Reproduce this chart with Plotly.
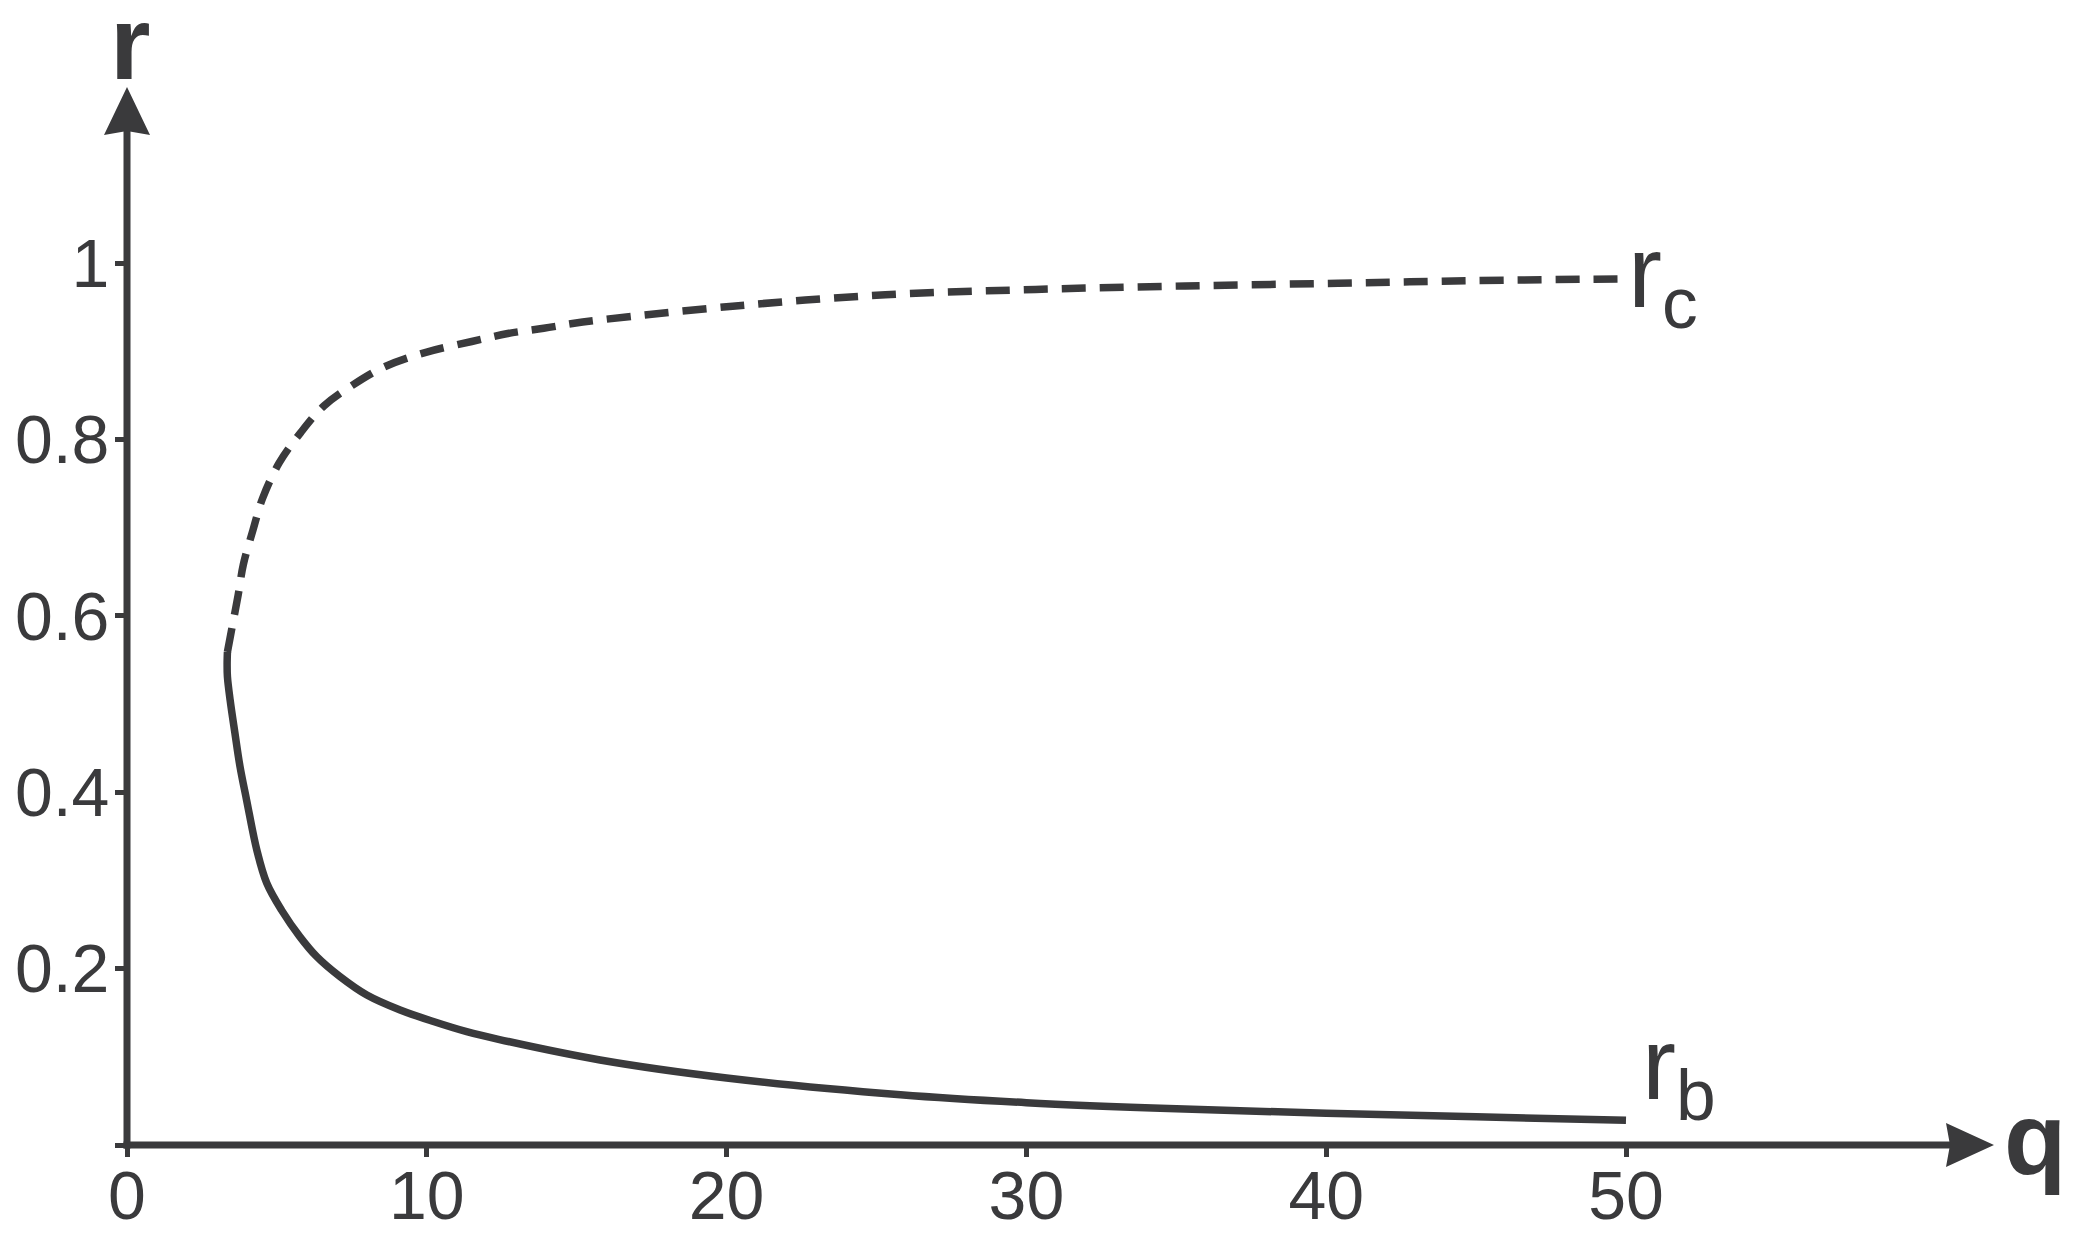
import plotly.graph_objects as go

# curve r_b (solid)
rb_q = [3.35, 3.34, 3.35, 3.44, 3.60, 3.77, 3.99, 4.33, 4.66, 5.16, 5.77, 6.33, 7.10, 8.00,
        9.11, 10.22, 11.33, 12.39, 15.78, 20.0, 25.8, 30.0, 35.0, 40.0, 45.0, 50.0]
rb_r = [0.559, 0.545, 0.531, 0.5045, 0.467, 0.429, 0.391, 0.3345, 0.297, 0.266, 0.236, 0.2135,
        0.191, 0.170, 0.153, 0.140, 0.1285, 0.1198, 0.0964, 0.076, 0.057, 0.048, 0.041, 0.036,
        0.032, 0.028]

# curve r_c (dashed)
rc_q = [3.35, 3.51, 3.71, 3.88, 4.20, 4.52, 5.07, 5.80, 6.57, 7.50, 8.57, 10.0, 11.5, 12.7,
        13.9, 15.2, 20.2, 25.3, 30.3, 35.3, 40.4, 45.0, 50.0]
rc_r = [0.559, 0.588, 0.624, 0.658, 0.697, 0.733, 0.773, 0.808, 0.838, 0.861, 0.882, 0.899,
        0.911, 0.920, 0.926, 0.933, 0.951, 0.964, 0.970, 0.974, 0.977, 0.980, 0.982]

x_ticks = [0, 10, 20, 30, 40, 50]
y_ticks = [0, 0.2, 0.4, 0.6, 0.8, 1]
y_ticktext = ["", "0.2", "0.4", "0.6", "0.8", "1"]

ink = "#3a3a3c"
font = "Liberation Sans, Arial, sans-serif"

# page body has an 8px margin, so the figure is a bit smaller than the window
W, H = 2061, 1218
ml, mr, mt, mb = 119, 75, 79, 81
pw, ph = W - ml - mr, H - mt - mb

fig = go.Figure()
fig.add_trace(go.Scatter(x=rc_q, y=rc_r, mode="lines",
                         line=dict(color=ink, width=7.5, dash="24px,14px", shape="spline", smoothing=1),
                         cliponaxis=False, hoverinfo="skip"))
fig.add_trace(go.Scatter(x=rb_q, y=rb_r, mode="lines",
                         line=dict(color=ink, width=7.5, shape="spline", smoothing=1),
                         cliponaxis=False, hoverinfo="skip"))

# axis lines with arrow heads
fig.add_shape(type="line", xref="paper", yref="paper", x0=-3.5 / pw, x1=1 - 40 / pw, y0=0, y1=0,
              line=dict(color=ink, width=7))
fig.add_shape(type="line", xref="paper", yref="paper", x0=0, x1=0, y0=-3.5 / ph, y1=1 - 40 / ph,
              line=dict(color=ink, width=7))
fig.add_shape(type="path", xref="paper", yref="paper", xsizemode="pixel", ysizemode="pixel",
              xanchor=1, yanchor=0, path="M 0,0 L -48,22 L -44,0 L -48,-22 Z",
              fillcolor=ink, line=dict(width=0))
fig.add_shape(type="path", xref="paper", yref="paper", xsizemode="pixel", ysizemode="pixel",
              xanchor=0, yanchor=1, path="M 0,0 L -23,-48 L 0,-44 L 23,-48 Z",
              fillcolor=ink, line=dict(width=0))

fig.add_annotation(xref="paper", yref="paper", x=0, y=1, xanchor="center", yanchor="bottom",
                   xshift=3, yshift=-16, showarrow=False, text="<b>r</b>",
                   font=dict(family=font, size=104, color=ink))
fig.add_annotation(xref="paper", yref="paper", x=1, y=0, xanchor="left", yanchor="middle",
                   xshift=8, yshift=6, showarrow=False, text="<b>q</b>",
                   font=dict(family=font, size=102, color=ink))
fig.add_annotation(xref="x", yref="y", x=50, y=0.961, xanchor="left", yanchor="middle",
                   xshift=0, yshift=18, showarrow=False, text="r<sub>c</sub>",
                   font=dict(family=font, size=102, color=ink))
fig.add_annotation(xref="x", yref="y", x=50, y=0.057, xanchor="left", yanchor="middle",
                   xshift=14, yshift=24, showarrow=False, text="r<sub>b</sub>",
                   font=dict(family=font, size=102, color=ink))

fig.update_layout(
    width=W, height=H,
    margin=dict(l=ml, r=mr, t=mt, b=mb, autoexpand=False),
    plot_bgcolor="white", paper_bgcolor="white",
    showlegend=False,
    font=dict(family=font, color=ink),
)
fig.update_xaxes(range=[0, pw / 29.98], tickvals=x_ticks, ticks="outside", ticklen=11, tickwidth=5,
                 tickcolor=ink, tickfont=dict(size=68, color=ink), showgrid=False,
                 zeroline=False, showline=False, automargin=False, ticklabelstandoff=-20)
fig.update_yaxes(range=[0, ph / 882], tickvals=y_ticks, ticktext=y_ticktext, ticks="outside",
                 ticklen=11, tickwidth=5, tickcolor=ink, tickfont=dict(size=68, color=ink),
                 showgrid=False, zeroline=False, showline=False, automargin=False,
                 ticklabelstandoff=-8)

fig.write_html("out.html")
